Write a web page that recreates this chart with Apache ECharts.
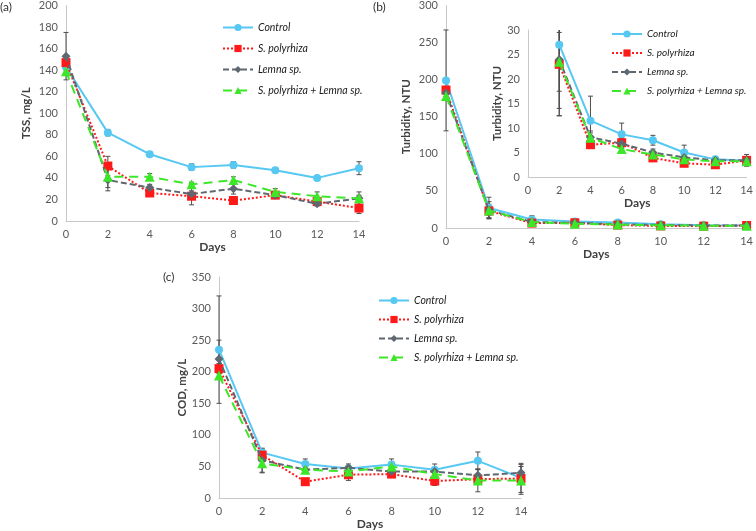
<!DOCTYPE html>
<html><head><meta charset="utf-8">
<script src="https://cdn.jsdelivr.net/npm/echarts@6/dist/echarts.min.js"></script>
<style>html,body{margin:0;padding:0;background:#fff}#c{width:756px;height:531px}</style>
</head><body><div id="c"></div>
<script>
const days = [0, 2, 4, 6, 8, 10, 12, 14];
const seriesNames = ['Control', 'S. polyrhiza', 'Lemna sp.', 'S. polyrhiza + Lemna sp.'];
const xTicks = [0, 14, 2];
// (a) TSS, mg/L
const tssControl = [143, 82, 62, 50, 52, 47, 40, 49];
const tssSp = [147, 51, 26, 23, 19, 24, 18, 12];
const tssLemna = [153, 38, 31, 25, 30, 24, 16, 21];
const tssMix = [139, 41, 41, 34, 38, 27, 23, 21];
const tssControlErr = [3, 3, 2, 3, 3, 2, 2, 6];
const tssSpErr = [4, 9, 3, 8, 2, 2, 3, 5];
const tssLemnaErr = [22, 10, 3, 3, 5, 2, 2, 6];
const tssMixErr = [3, 10, 3, 2, 3, 3, 4, 3];
const tssTicks = [0, 200, 20];
// (b) Turbidity, NTU
const turbControl = [199, 27, 11.5, 8.7, 7.5, 5, 3.6, 3.3];
const turbSp = [186, 23, 6.6, 7, 3.9, 2.8, 2.5, 3.4];
const turbLemna = [182, 24, 8.1, 6.8, 5, 4, 3.4, 3.4];
const turbMix = [178, 23.5, 8, 5.7, 4.6, 3.6, 3.2, 3.2];
const turbControlErr = [68, 14.5, 5, 2.3, 1, 1.5, 0.4, 0.5];
const turbSpErr = [5, 9, 0.8, 1, 0.5, 0.5, 0.3, 0.5];
const turbLemnaErr = [5, 11.5, 1.3, 1, 0.7, 0.5, 0.4, 1.2];
const turbMixErr = [5, 6, 1, 0.5, 0.5, 0.5, 0.4, 0.6];
const turbTicks = [0, 300, 50];
const insetTicks = [0, 30, 5];
// (c) COD, mg/L
const codControl = [235, 72, 54, 47, 53, 45, 59, 32];
const codSp = [205, 68, 26, 37, 38, 27, 30, 31];
const codLemna = [220, 60, 45, 48, 42, 42, 36, 40];
const codMix = [194, 55, 45, 42, 50, 38, 28, 28];
const codControlErr = [85, 6, 8, 4, 9, 9, 14, 5];
const codSpErr = [8, 8, 4, 9, 4, 7, 8, 22];
const codLemnaErr = [30, 19, 5, 6, 5, 5, 10, 15];
const codMixErr = [5, 15, 5, 5, 5, 6, 18, 22];
const codTicks = [0, 350, 50];

const styles = [
  {color: '#56c8f2', type: 'solid', symbol: 'circle', size: 8},
  {color: '#ff1a1a', type: [2, 2], symbol: 'rect', size: 9},
  {color: '#5f6870', type: [6, 3], symbol: 'diamond', size: 9},
  {color: '#3ee62a', type: [9, 6], symbol: 'triangle', size: 10}
];
const labelColor = '#595959';
const fontFam = 'Lato, "Liberation Sans", sans-serif';

function pairs(vals, minDay) {
  return days.map((d, i) => [d, vals[i]]).filter(p => p[0] >= minDay);
}
function errPairs(vals, errs, minDay) {
  return days.map((d, i) => [d, vals[i], errs[i]]).filter(p => p[0] >= minDay);
}
function errRender(params, api) {
  const x = api.value(0), v = api.value(1), e = api.value(2);
  const cs = params.coordSys;
  const t = api.coord([x, v + e]);
  const b = api.coord([x, v - e]);
  const lo = cs.y, hi = cs.y + cs.height;
  const y1 = Math.max(lo, Math.min(hi, t[1]));
  const y2 = Math.max(lo, Math.min(hi, b[1]));
  const px = t[0], w = 2.5;
  const st = {stroke: '#4d4d4d', lineWidth: 1};
  const ch = [{type: 'line', shape: {x1: px, y1: y1, x2: px, y2: y2}, style: st}];
  if (t[1] >= lo) ch.push({type: 'line', shape: {x1: px - w, y1: y1, x2: px + w, y2: y1}, style: st});
  if (b[1] <= hi) ch.push({type: 'line', shape: {x1: px - w, y1: y2, x2: px + w, y2: y2}, style: st});
  return {type: 'group', children: ch};
}

const grids = [
  {left: 66, top: 5, width: 293, height: 216},
  {left: 446, top: 5, width: 302, height: 223},
  {left: 528, top: 30, width: 219, height: 147},
  {left: 219, top: 277, width: 302, height: 224}
];
const yNames = ['TSS, mg/L', 'Turbidity, NTU', 'Turbidity, NTU', 'COD, mg/L'];
const yTicks = [tssTicks, turbTicks, insetTicks, codTicks];
const yGaps = [34, 34, 24, 31];
const xGaps = [13, 12, 13, 12];

const xAxes = grids.map((g, i) => ({
  type: 'value', gridIndex: i, min: xTicks[0], max: xTicks[1], interval: xTicks[2],
  name: 'Days', nameLocation: 'middle', nameGap: xGaps[i],
  nameTextStyle: {fontWeight: 'bold', fontSize: 12, color: '#404040', fontFamily: fontFam},
  axisLine: {lineStyle: {color: '#c8c8c8', width: 1}},
  axisTick: {show: false}, splitLine: {show: false},
  axisLabel: {color: labelColor, fontSize: 11, margin: 8, fontFamily: fontFam}
}));
const yAxes = grids.map((g, i) => ({
  type: 'value', gridIndex: i, min: yTicks[i][0], max: yTicks[i][1], interval: yTicks[i][2],
  name: yNames[i], nameLocation: 'middle', nameGap: yGaps[i], nameRotate: 90,
  nameTextStyle: {fontWeight: 'bold', fontSize: 11.5, color: '#404040', fontFamily: fontFam},
  axisLine: {show: true, lineStyle: {color: '#c8c8c8', width: 1}},
  axisTick: {show: false}, splitLine: {show: false},
  axisLabel: {color: labelColor, fontSize: 11, margin: 8, fontFamily: fontFam}
}));

const panelData = [
  {idx: 0, vals: [tssControl, tssSp, tssLemna, tssMix], errs: [tssControlErr, tssSpErr, tssLemnaErr, tssMixErr], minDay: 0},
  {idx: 1, vals: [turbControl, turbSp, turbLemna, turbMix], errs: [turbControlErr, turbSpErr, turbLemnaErr, turbMixErr], minDay: 0},
  {idx: 2, vals: [turbControl, turbSp, turbLemna, turbMix], errs: [turbControlErr, turbSpErr, turbLemnaErr, turbMixErr], minDay: 2},
  {idx: 3, vals: [codControl, codSp, codLemna, codMix], errs: [codControlErr, codSpErr, codLemnaErr, codMixErr], minDay: 0}
];

const series = [];
panelData.forEach(p => {
  p.vals.forEach((v, k) => {
    series.push({
      type: 'custom', name: seriesNames[k] + ' err', xAxisIndex: p.idx, yAxisIndex: p.idx,
      renderItem: errRender, data: errPairs(v, p.errs[k], p.minDay), encode: {x: 0, y: 1}, z: 1,
      silent: true
    });
  });
  p.vals.forEach((v, k) => {
    const s = styles[k];
    series.push({
      type: 'line', name: seriesNames[k], xAxisIndex: p.idx, yAxisIndex: p.idx,
      data: pairs(v, p.minDay), symbol: s.symbol, symbolSize: s.size, showSymbol: true,
      lineStyle: {color: s.color, type: s.type, width: 2},
      itemStyle: {color: s.color},
      z: 2 + k, animation: false
    });
  });
});

function legend(left, top, gap, fs) {
  return {
    orient: 'vertical', left: left, top: top, itemWidth: 30, itemHeight: 9, itemGap: gap,
    data: seriesNames,
    textStyle: {fontStyle: 'italic', fontSize: fs, color: '#1a1a1a', fontFamily: fontFam}
  };
}

const chart = echarts.init(document.getElementById('c'));
chart.setOption({
  animation: false,
  backgroundColor: '#fff',
  grid: grids,
  xAxis: xAxes,
  yAxis: yAxes,
  legend: [legend(217, 17, 10, 10.5), legend(606, 24, 9, 10), legend(373, 290, 8, 10.5)],
  graphic: [
    {type: 'text', left: 0, top: 1, style: {text: '(a)', fontSize: 12, fill: '#333', fontFamily: fontFam}},
    {type: 'text', left: 373, top: 1, style: {text: '(b)', fontSize: 12, fill: '#333', fontFamily: fontFam}},
    {type: 'text', left: 163, top: 271, style: {text: '(c)', fontSize: 12, fill: '#333', fontFamily: fontFam}}
  ],
  series: series
});
</script>
</body></html>
